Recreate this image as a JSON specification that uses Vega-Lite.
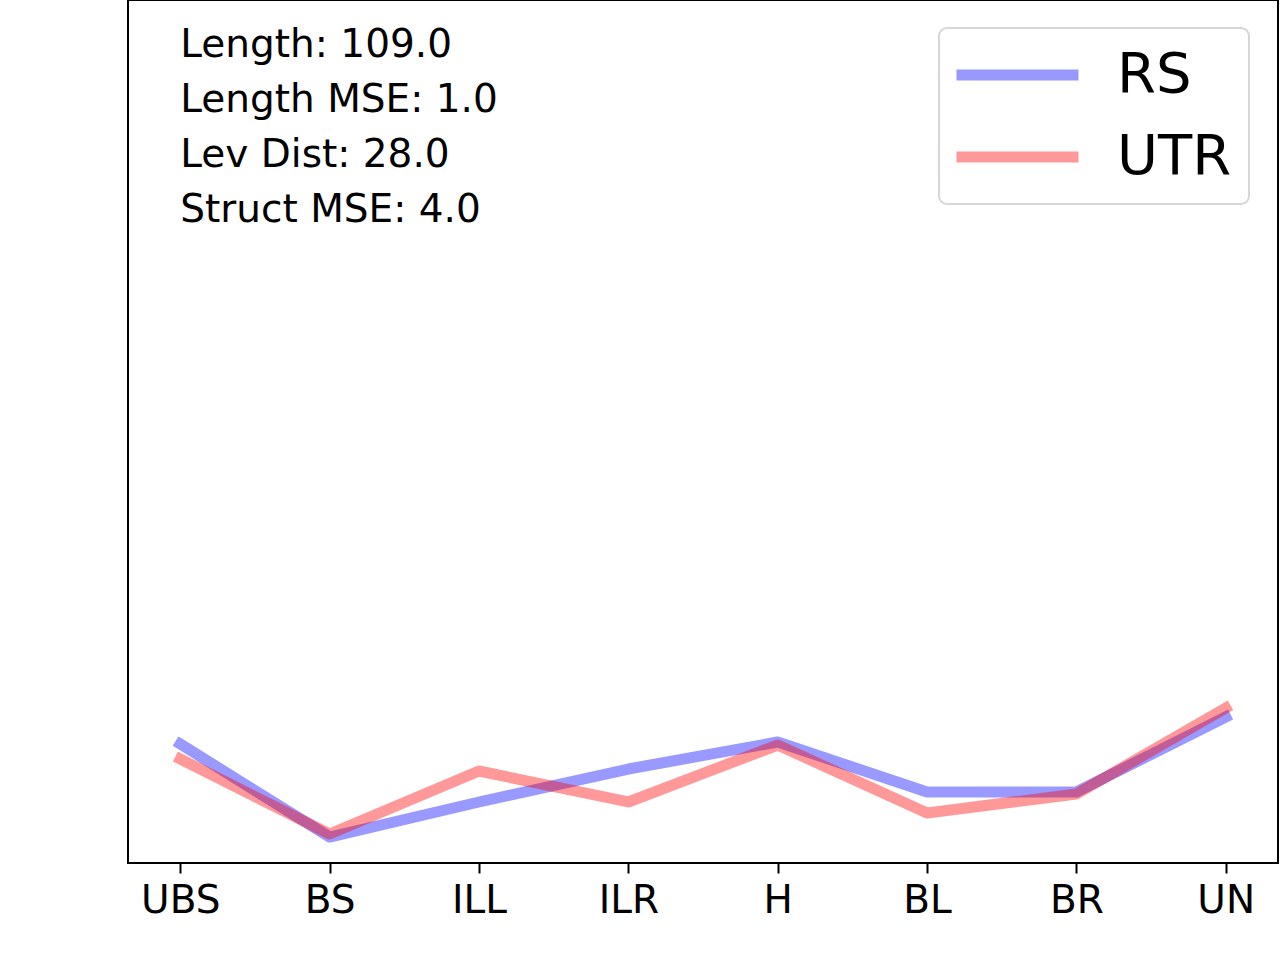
{
  "$schema": "https://vega.github.io/schema/vega-lite/v6.json",
  "width": 1150,
  "height": 863,
  "autosize": "none",
  "padding": {"left": 128, "top": 0, "right": 2, "bottom": 97},
  "background": "white",
  "config": {
    "font": "DejaVu Sans",
    "view": {"stroke": "black", "strokeWidth": 2},
    "legend": {
      "strokeWidth": 2
    }
  },
  "datasets": {
    "series": [
      {"part": "UBS", "method": "RS", "value": 13.79},
      {"part": "BS", "method": "RS", "value": 3.01},
      {"part": "ILL", "method": "RS", "value": 7.07},
      {"part": "ILR", "method": "RS", "value": 10.89},
      {"part": "H", "method": "RS", "value": 14.02},
      {"part": "BL", "method": "RS", "value": 8.23},
      {"part": "BR", "method": "RS", "value": 8.23},
      {"part": "UN", "method": "RS", "value": 16.92},
      {"part": "UBS", "method": "UTR", "value": 12.05},
      {"part": "BS", "method": "UTR", "value": 3.36},
      {"part": "ILL", "method": "UTR", "value": 10.66},
      {"part": "ILR", "method": "UTR", "value": 7.07},
      {"part": "H", "method": "UTR", "value": 13.67},
      {"part": "BL", "method": "UTR", "value": 5.79},
      {"part": "BR", "method": "UTR", "value": 8.0},
      {"part": "UN", "method": "UTR", "value": 17.96}
    ],
    "notes": [
      {"part": "UBS", "value": 93.4, "label": "Length: 109.0"},
      {"part": "UBS", "value": 87.02, "label": "Length MSE: 1.0"},
      {"part": "UBS", "value": 80.65, "label": "Lev Dist: 28.0"},
      {"part": "UBS", "value": 74.28, "label": "Struct MSE: 4.0"}
    ]
  },
  "encoding": {
    "x": {
      "field": "part",
      "type": "nominal",
      "sort": ["UBS", "BS", "ILL", "ILR", "H", "BL", "BR", "UN"],
      "scale": {"type": "point", "padding": 0.35},
      "axis": {
        "title": null,
        "domain": false,
        "labelAngle": 0,
        "labelFontSize": 39,
        "labelColor": "black",
        "labelPadding": 8,
        "tickColor": "black",
        "tickWidth": 2,
        "tickSize": 10,
        "grid": false
      }
    },
    "y": {
      "field": "value",
      "type": "quantitative",
      "scale": {"domain": [0, 100], "nice": false, "zero": false},
      "axis": null
    }
  },
  "layer": [
    {
      "data": {"name": "series"},
      "mark": {
        "type": "line",
        "strokeWidth": 11,
        "strokeOpacity": 0.4,
        "strokeCap": "square",
        "strokeJoin": "round"
      },
      "encoding": {
        "color": {
          "field": "method",
          "type": "nominal",
          "scale": {"domain": ["RS", "UTR"], "range": ["blue", "red"]},
          "legend": {
            "title": null,
            "orient": "none",
            "legendX": 811,
            "legendY": 28,
            "symbolType": "stroke",
            "symbolSize": 14884,
            "symbolStrokeWidth": 11,
            "symbolOpacity": 0.4,
            "symbolOffset": -5,
            "clipHeight": 60,
            "rowPadding": 22,
            "labelFontSize": 56,
            "labelColor": "black",
            "labelOffset": 33,
            "padding": 17,
            "strokeColor": "#d6d6d6",
            "fillColor": "white",
            "cornerRadius": 8
          }
        }
      }
    },
    {
      "data": {"name": "notes"},
      "mark": {
        "type": "text",
        "align": "left",
        "baseline": "alphabetic",
        "fontSize": 39,
        "color": "black"
      },
      "encoding": {
        "text": {"field": "label"}
      }
    }
  ]
}
